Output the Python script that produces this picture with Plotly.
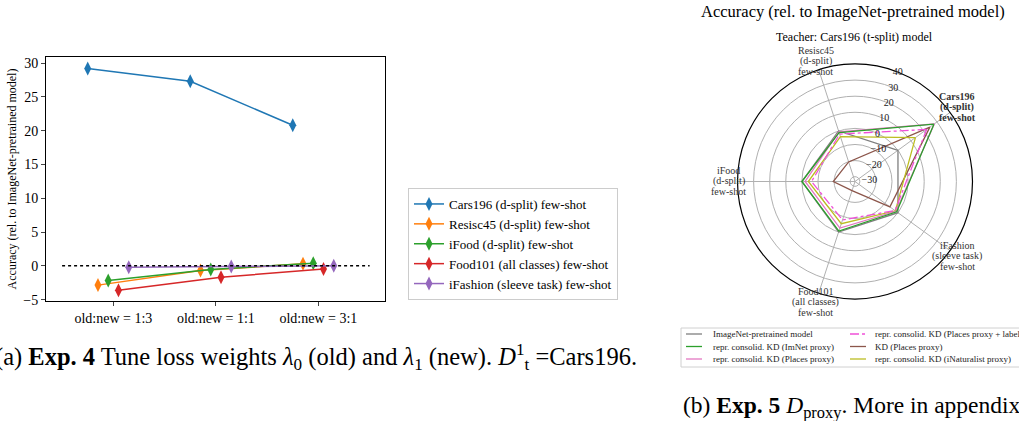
import math
import plotly.graph_objects as go

# ---------------- Left chart data (Exp. 4) ----------------
ratios = ["old:new = 1:3", "old:new = 1:1", "old:new = 3:1"]
left_series = ["Cars196 (d-split) few-shot", "Resisc45 (d-split) few-shot",
               "iFood (d-split) few-shot", "Food101 (all classes) few-shot",
               "iFashion (sleeve task) few-shot"]
cars196_vals = [29.2, 27.3, 20.8]
resisc45_vals = [-2.85, -0.7, 0.3]
ifood_vals = [-2.15, -0.55, 0.4]
food101_vals = [-3.6, -1.7, -0.45]
ifashion_vals = [-0.2, -0.1, 0.0]
left_offsets = [-0.25, -0.15, -0.05, 0.05, 0.15]
left_colors = ["#1f77b4", "#ff7f0e", "#2ca02c", "#d62728", "#9467bd"]

# ---------------- Right chart data (Exp. 5, radar) ----------------
radar_axes = ["Cars196", "Resisc45", "iFood", "Food101", "iFashion"]
radar_label_lines = [["Cars196", "(d-split)", "few-shot"],
                     ["Resisc45", "(d-split)", "few-shot"],
                     ["iFood", "(d-split)", "few-shot"],
                     ["Food101", "(all classes)", "few-shot"],
                     ["iFashion", "(sleeve task)", "few-shot"]]
radar_label_bold = [True, False, False, False, False]
imagenet_vals = [0, 0, 0, 0, 0]
imnet_proxy_vals = [27.6, -1.0, 0.0, -0.6, -1.0]
places_proxy_vals = [28.0, -0.6, -2.0, -2.6, -1.5]
places_label_vals = [22.0, -2.0, -6.0, -7.9, -2.3]
kd_places_vals = [24.5, -20.2, -19.5, -27.0, -6.2]
inat_proxy_vals = [13.4, -3.7, -4.0, -5.4, -2.0]
radar_names = ["ImageNet-pretrained model", "repr. consolid. KD (ImNet proxy)",
               "repr. consolid. KD (Places proxy)", "repr. consolid. KD (Places proxy + label)",
               "KD (Places proxy)", "repr. consolid. KD (iNaturalist proxy)"]
radar_colors = ["#7f7f7f", "#2ca02c", "#e377c2", "#f050d8", "#8c564b", "#bcbd22"]
radar_dash = ["solid", "solid", "solid", "dashdot", "solid", "solid"]
# legend cell (column, row) for each radar series
radar_legend_cell = [(0, 0), (0, 1), (0, 2), (1, 0), (1, 1), (1, 2)]
radar_range = [-33, 40]
radar_ticks = [-30, -20, -10, 0, 10, 20, 30, 40]

W, H = 1019, 421
SERIF = "Liberation Serif"

# polar geometry (pixels from top-left)
PCX, PCY, PR = 855, 181.5, 117.5
ROTATION = 36


def px(x):
    return x / W


def py(y):
    return (H - y) / H


fig = go.Figure()

left_vals = [cars196_vals, resisc45_vals, ifood_vals, food101_vals, ifashion_vals]
for name, vals, off, col in zip(left_series, left_vals, left_offsets, left_colors):
    fig.add_trace(go.Scatter(
        x=[i + off for i in range(len(ratios))], y=vals, name=name,
        mode="lines+markers", line=dict(color=col, width=1.5),
        marker=dict(symbol="diamond-tall", size=10, color=col),
        xaxis="x", yaxis="y"))

# dotted zero line
fig.add_trace(go.Scatter(x=[-0.5, 2.5], y=[0, 0], mode="lines",
                         line=dict(color="black", width=1.5, dash="dot"),
                         showlegend=False, hoverinfo="skip"))

radar_vals = [imagenet_vals, imnet_proxy_vals, places_proxy_vals,
              places_label_vals, kd_places_vals, inat_proxy_vals]
order = [0, 4, 5, 3, 2, 1]
for i in order:
    vals = radar_vals[i]
    fig.add_trace(go.Scatterpolar(
        r=vals + [vals[0]], theta=radar_axes + [radar_axes[0]],
        name=radar_names[i], mode="lines", showlegend=False,
        line=dict(color=radar_colors[i], width=1.3, dash=radar_dash[i]),
        subplot="polar"))

annotations = [
    dict(text="Accuracy (rel. to ImageNet-pretrained model)", x=px(853), y=py(12),
         xref="paper", yref="paper", showarrow=False, xanchor="center", yanchor="middle",
         font=dict(size=16.5, family=SERIF)),
    dict(text="Teacher: Cars196 (t-split) model", x=px(854), y=py(37),
         xref="paper", yref="paper", showarrow=False, xanchor="center", yanchor="middle",
         font=dict(size=12, family=SERIF)),
    dict(text="(a) <b>Exp. 4</b> Tune loss weights <i>λ</i><sub>0</sub> (old) and <i>λ</i><sub>1</sub> (new). "
              "<i>D</i><sup>1</sup><sub>t</sub> =Cars196.",
         x=px(-7), y=py(357), xref="paper", yref="paper", showarrow=False,
         xanchor="left", yanchor="middle", font=dict(size=24.5, family=SERIF)),
    dict(text="(b) <b>Exp. 5</b> <i>D</i><sub>proxy</sub>. More in appendix",
         x=px(681), y=py(407), xref="paper", yref="paper", showarrow=False,
         xanchor="left", yanchor="middle", font=dict(size=23.5, family=SERIF)),
]

# angular category labels placed just outside the polar frame
n_ax = len(radar_axes)
for k, (lines, bold) in enumerate(zip(radar_label_lines, radar_label_bold)):
    ang = math.radians(ROTATION + 360 * k / n_ax)
    cx = PCX + (PR + 9) * math.cos(ang)
    cy = PCY - (PR + 9) * math.sin(ang)
    for j, line in enumerate(lines):
        yy = cy + (j - 1) * 10.5
        annotations.append(dict(
            text=f"<b>{line}</b>" if bold else line, x=px(cx), y=py(yy),
            xref="paper", yref="paper", showarrow=False, xanchor="center", yanchor="middle",
            font=dict(size=10, family=SERIF, color="#333")))

# manual legend for the radar chart (2 columns x 3 rows)
shapes = [dict(type="rect", xref="paper", yref="paper", x0=px(681), x1=px(1030),
               y0=py(367), y1=py(328), line=dict(color="#d0d0d0", width=1), fillcolor="white",
               layer="below")]
col_line_x = [(686, 702), (850, 866)]
col_text_x = [711, 873]
row_y = [334, 346.5, 359]
for i, name in enumerate(radar_names):
    c, r = radar_legend_cell[i]
    shapes.append(dict(type="line", xref="paper", yref="paper",
                       x0=px(col_line_x[c][0]), x1=px(col_line_x[c][1]),
                       y0=py(row_y[r]), y1=py(row_y[r]),
                       line=dict(color=radar_colors[i], width=1.3, dash=radar_dash[i])))
    annotations.append(dict(text=name, x=px(col_text_x[c]), y=py(row_y[r]),
                            xref="paper", yref="paper", showarrow=False,
                            xanchor="left", yanchor="middle",
                            font=dict(size=9, family=SERIF, color="#222")))

fig.update_layout(
    width=W, height=H,
    margin=dict(l=0, r=0, t=0, b=0, autoexpand=False),
    paper_bgcolor="white", plot_bgcolor="white",
    font=dict(family=SERIF, color="black", size=12),
    xaxis=dict(domain=[px(46), px(385)], range=[-0.657, 2.65],
               tickmode="array", tickvals=[0, 1, 2], ticktext=ratios,
               showgrid=False, zeroline=False, showline=True, mirror=True,
               linecolor="black", linewidth=1, ticks="outside", ticklen=4,
               tickfont=dict(size=14, family=SERIF)),
    yaxis=dict(domain=[py(301), py(57)], range=[-5.2, 30.9],
               tickvals=[-5, 0, 5, 10, 15, 20, 25, 30],
               showgrid=False, zeroline=False, showline=True, mirror=True,
               linecolor="black", linewidth=1, ticks="outside", ticklen=4,
               tickfont=dict(size=14, family=SERIF),
               title=dict(text="Accuracy (rel. to ImageNet-pretrained model)",
                          font=dict(size=12, family=SERIF), standoff=4)),
    showlegend=True,
    legend=dict(x=px(408), y=py(188), xanchor="left", yanchor="top",
                xref="paper", yref="paper",
                bgcolor="white", bordercolor="#cccccc", borderwidth=1,
                font=dict(size=13, family=SERIF), tracegroupgap=0),
    polar=dict(
        domain=dict(x=[px(PCX - PR), px(PCX + PR)],
                    y=[py(PCY + PR), py(PCY - PR)]),
        bgcolor="white",
        angularaxis=dict(type="category", categoryarray=radar_axes,
                         rotation=ROTATION, direction="counterclockwise",
                         showticklabels=False,
                         showline=True, linecolor="black", linewidth=1.2,
                         showgrid=True, gridcolor="#b0b0b0", ticks=""),
        radialaxis=dict(range=radar_range, tickvals=radar_ticks,
                        angle=74, tickangle=74, showline=False, ticks="",
                        gridcolor="#b0b0b0",
                        tickfont=dict(size=10, family=SERIF, color="#222")),
    ),
    annotations=annotations,
    shapes=shapes,
)

fig.write_html("out.html")
